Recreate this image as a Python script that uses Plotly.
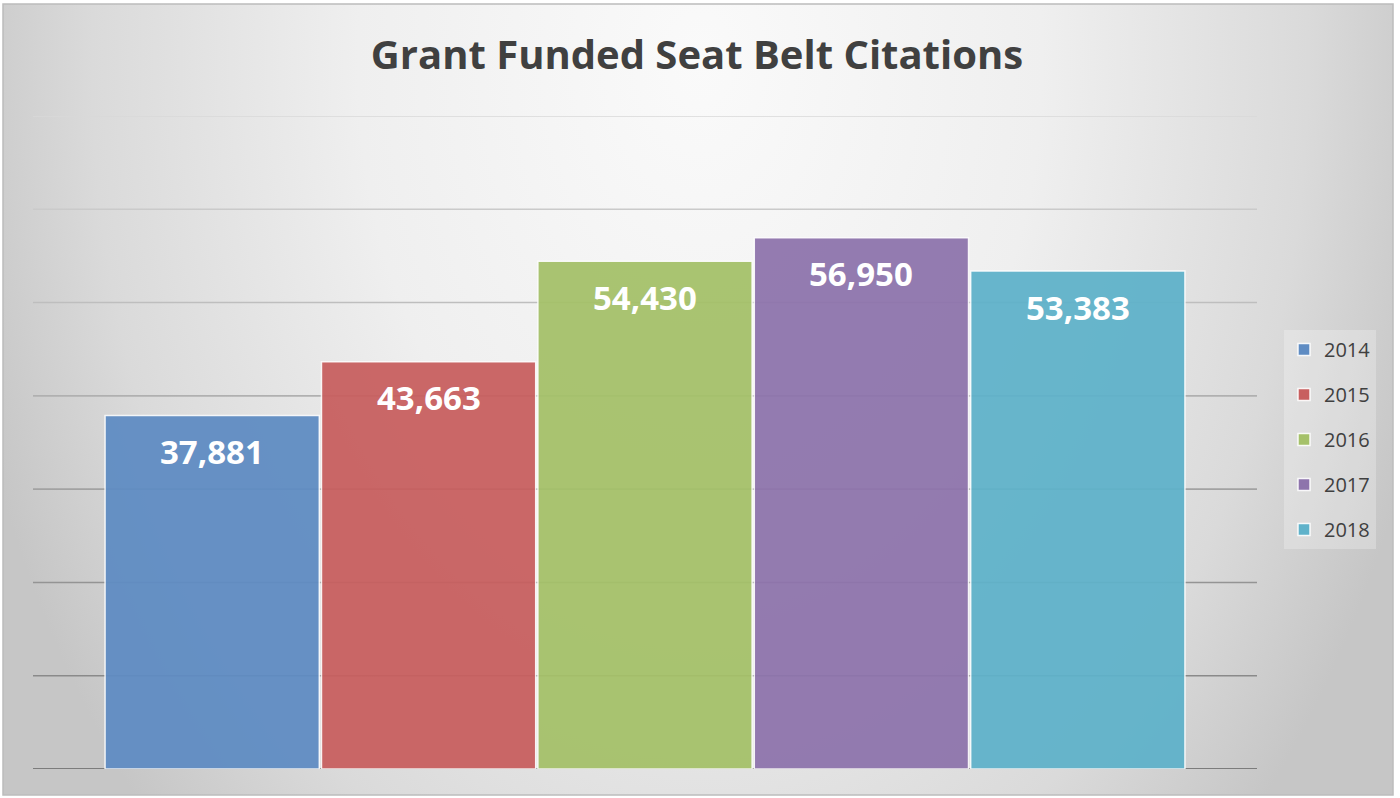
import base64
import plotly.graph_objects as go

# ---- data ----
years = ["2014", "2015", "2016", "2017", "2018"]
citations = [37881, 43663, 54430, 56950, 53383]
grid_values = [10000, 20000, 30000, 40000, 50000, 60000, 70000]

# ---- styles ----
bar_colors = ["#5F8CC3", "#C85F5F", "#A5C169", "#8E74AC", "#5FB2CA"]
grid_colors = ["#8a8a8a", "#949494", "#a2a2a2", "#b0b0b0", "#bebebe", "#cacaca", "#d8d8d8"]
W, H = 1400, 798
ML, MR, MT, MB = 33, 143, 116, 29
PW, PH = W - ML - MR, H - MT - MB

svg = f'''<svg xmlns="http://www.w3.org/2000/svg" width="{W}" height="{H}" viewBox="0 0 {W} {H}" preserveAspectRatio="none">
<defs><radialGradient id="g" gradientUnits="userSpaceOnUse" cx="700" cy="60" r="760" gradientTransform="translate(700 60) scale(1 1.45) translate(-700 -60)">
<stop offset="0" stop-color="#fafafa"/><stop offset="0.45" stop-color="#efefef"/>
<stop offset="0.8" stop-color="#dadada"/><stop offset="1" stop-color="#c6c6c6"/></radialGradient></defs>
<rect x="0" y="0" width="{W}" height="{H}" fill="#ffffff"/>
<rect x="3" y="4" width="1390" height="791" fill="url(#g)" stroke="#bcbcbc" stroke-width="1.5"/>
</svg>'''
bg_uri = "data:image/svg+xml;base64," + base64.b64encode(svg.encode()).decode()

fig = go.Figure()
for i, (yr, val) in enumerate(zip(years, citations)):
    fig.add_trace(go.Bar(
        x=[i], y=[val], name=yr, legendgroup=yr, width=0.99,
        marker=dict(color=bar_colors[i], opacity=0.94, line=dict(color="rgba(255,255,255,0.9)", width=1.5)),
        hoverinfo="skip",
    ))
    fig.add_annotation(x=i, y=val, xref="x", yref="y", text=f"{val:,}", showarrow=False,
                       yshift=-36, yanchor="middle",
                       font=dict(family="Open Sans", size=33, color="white", weight="bold"))

for gv, gc in zip(grid_values, grid_colors):
    fig.add_shape(type="line", xref="paper", yref="y", x0=0, x1=1, y0=gv, y1=gv,
                  line=dict(color=gc, width=1.6), layer="below")
fig.add_shape(type="line", xref="paper", yref="y", x0=0, x1=1, y0=0, y1=0,
              line=dict(color="#7c7c7c", width=1.8), layer="below")

fig.add_layout_image(dict(source=bg_uri, xref="paper", yref="paper",
                          x=-ML / PW, y=1 + MT / PH, sizex=W / PW, sizey=H / PH,
                          sizing="stretch", xanchor="left", yanchor="top", layer="below"))

fig.update_layout(
    width=W, height=H,
    margin=dict(l=ML, r=MR, t=MT, b=MB, pad=0),
    paper_bgcolor="white", plot_bgcolor="rgba(0,0,0,0)",
    barmode="overlay",
    title=dict(text="Grant Funded Seat Belt Citations", x=697 / W, xref="container", xanchor="center",
               y=1 - 55 / H, yref="container", yanchor="middle",
               font=dict(family="Open Sans", size=40, color="#404040", weight="bold")),
    xaxis=dict(range=[-0.828, 4.828], visible=False, fixedrange=True),
    yaxis=dict(range=[0, 70000], showgrid=False, zeroline=False, showticklabels=False, visible=False),
    showlegend=True,
    legend=dict(x=(1284 - ML) / PW, y=(769 - 330) / PH, xanchor="left", yanchor="top",
                bgcolor="rgba(255,255,255,0.25)", font=dict(family="Open Sans", size=20, color="#404040"),
                tracegroupgap=16, traceorder="grouped", itemwidth=30),
)

fig.write_html("out.html", config={"displayModeBar": False},
               post_script="document.body.style.margin='0';document.body.style.overflow='hidden';")
